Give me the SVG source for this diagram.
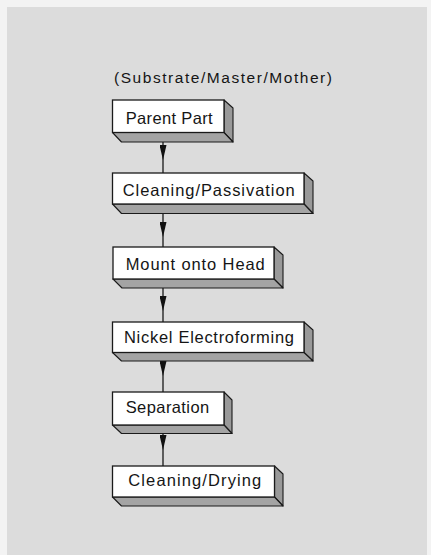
<svg xmlns="http://www.w3.org/2000/svg" width="431" height="555" viewBox="0 0 431 555">
<style>
.face{fill:#ffffff;stroke:#1a1a1a;stroke-width:1.3}
.side{fill:#999999;stroke:#1a1a1a;stroke-width:1.1;stroke-linejoin:round}
.bot{fill:#a4a4a4;stroke:#1a1a1a;stroke-width:1.1;stroke-linejoin:round}
.lbl{font-family:"Liberation Sans",Arial,sans-serif;font-size:16.5px;fill:#151515}
.conn{stroke:#1a1a1a;stroke-width:1.3;fill:none;marker-mid:url(#ah)}
</style>
<defs>
<marker id="ah" markerUnits="userSpaceOnUse" markerWidth="15" markerHeight="7" viewBox="0 0 15 7" refX="15" refY="3.5" orient="auto">
<path d="M0,0 L15,3.5 L0,7 Z" fill="#111"/>
</marker>
</defs>
<rect x="0" y="0" width="431" height="555" fill="#f3f3f3"/>
<rect x="7" y="7" width="420" height="548" fill="#dcdcdc"/>
<text x="114" y="83" class="lbl" style="font-size:15.5px" textLength="218" lengthAdjust="spacing">(Substrate/Master/Mother)</text>

<g id="connectors">
<path class="conn" d="M163,142 L163,160 L163,173"/>
<path class="conn" d="M163,213 L163,237 L163,247"/>
<path class="conn" d="M163,288 L163,311 L163,322"/>
<path class="conn" d="M163,361 L163,376 L163,392"/>
<path class="conn" d="M163,434 L163,450 L163,466"/>
</g>

<g id="n1">
<polygon class="side" points="224,100 233,108 233,142 224,132.5"/>
<polygon class="bot" points="112.5,132.5 224,132.5 233,142 121.5,142"/>
<rect class="face" x="112.5" y="100" width="111.5" height="32.5"/>
<text class="lbl" x="125.7" y="123.5" textLength="87" lengthAdjust="spacing">Parent Part</text>
</g>
<g id="n2">
<polygon class="side" points="304,173 313,181 313,213.5 304,204"/>
<polygon class="bot" points="112.5,204 304,204 313,213.5 121.5,213.5"/>
<rect class="face" x="112.5" y="173" width="191.5" height="31"/>
<text class="lbl" x="122.7" y="196" textLength="172" lengthAdjust="spacing">Cleaning/Passivation</text>
</g>
<g id="n3">
<polygon class="side" points="274,247 283,255 283,288 274,279"/>
<polygon class="bot" points="113,279 274,279 283,288 122,288"/>
<rect class="face" x="113" y="247" width="161" height="32"/>
<text class="lbl" x="125.7" y="269.5" textLength="139" lengthAdjust="spacing">Mount onto Head</text>
</g>
<g id="n4">
<polygon class="side" points="304,322 313,330 313,361 304,352.5"/>
<polygon class="bot" points="112.5,352.5 304,352.5 313,361 121.5,361"/>
<rect class="face" x="112.5" y="322" width="191.5" height="30.5"/>
<text class="lbl" x="124" y="342.5" textLength="170" lengthAdjust="spacing">Nickel Electroforming</text>
</g>
<g id="n5">
<polygon class="side" points="224,392 232,400 232,433.5 224,425"/>
<polygon class="bot" points="112.5,425 224,425 232,433.5 121.5,433.5"/>
<rect class="face" x="112.5" y="392" width="111.5" height="33"/>
<text class="lbl" x="125.7" y="412.5" textLength="83.5" lengthAdjust="spacing">Separation</text>
</g>
<g id="n6">
<polygon class="side" points="274.5,466 283,474 283,506 274.5,497"/>
<polygon class="bot" points="112.5,497 274.5,497 283,506 121.5,506"/>
<rect class="face" x="112.5" y="466" width="162" height="31"/>
<text class="lbl" x="128.3" y="486" textLength="133" lengthAdjust="spacing">Cleaning/Drying</text>
</g>
</svg>
